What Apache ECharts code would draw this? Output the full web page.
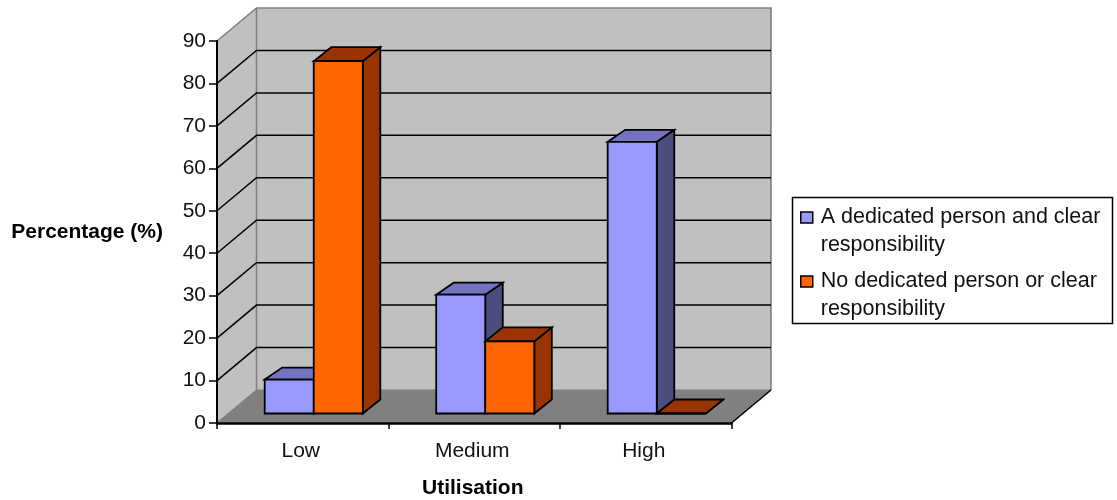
<!DOCTYPE html>
<html>
<head>
<meta charset="utf-8">
<style>html,body{margin:0;padding:0;background:#fff}#c{width:1117px;height:500px}</style>
<script src="https://cdn.jsdelivr.net/npm/echarts@6/dist/echarts.min.js"></script>
</head>
<body>
<div id="c"></div>
<script>
const categories = ['Low', 'Medium', 'High'];
const dedicatedValues = [8, 28, 64];
const noDedicatedValues = [83, 17, 0];
const gridValues = [10, 20, 30, 40, 50, 60, 70, 80, 90];
const seriesNames = ['A dedicated person and clear responsibility', 'No dedicated person or clear responsibility'];
const legendLines = {
  'A dedicated person and clear responsibility': ['A dedicated person and clear', 'responsibility'],
  'No dedicated person or clear responsibility': ['No dedicated person or clear', 'responsibility']
};

const FONT = '"Liberation Sans", Arial, sans-serif';
const WALL_DX = 39.5, WALL_DY = 33;      // depth of the plot box
const BAR_DX = 17.5;                     // depth of a bar
const BAR_SHIFT_X = 11, BAR_SHIFT_Y = 9.5; // front plane of the bars inside the box
const BAR_BAND = 0.286;                  // bar width as a share of a category

function poly(points, fill, stroke, lw) {
  return { type: 'polygon', shape: { points }, style: { fill, stroke: stroke || null, lineWidth: lw || 0, lineJoin: 'miter' }, silent: true };
}
function line(points, stroke, lw) {
  return { type: 'polyline', shape: { points }, style: { fill: null, stroke, lineWidth: lw }, silent: true };
}

function renderWalls(params) {
  const g = params.coordSys;
  const x = g.x, y = g.y, w = g.width, h = g.height, b = y + h;
  const dx = WALL_DX, dy = WALL_DY;
  const edge = '#808080';
  return {
    type: 'group',
    children: [
      poly([[x + dx, y - dy], [x + w + dx, y - dy], [x + w + dx, b - dy], [x + dx, b - dy]], '#C0C0C0'),
      poly([[x, y], [x + dx, y - dy], [x + dx, b - dy], [x, b]], '#C0C0C0'),
      poly([[x, b], [x + dx, b - dy], [x + w + dx, b - dy], [x + w, b]], '#808080'),
      line([[x, y], [x + dx, y - dy], [x + w + dx, y - dy], [x + w + dx, b - dy]], edge, 1.6),
      line([[x + dx, y - dy], [x + dx, b - dy]], edge, 1.6),
      line([[x, b], [x + dx, b - dy], [x + w + dx, b - dy]], edge, 1.2),
      line([[x + w, b], [x + w + dx, b - dy]], '#000', 1.5)
    ]
  };
}

function renderGrid(params, api) {
  const g = params.coordSys;
  const v = api.value(1);
  if (v >= 90) return { type: 'group', children: [] };
  const yy = api.coord([0, v])[1];
  return line([[g.x, yy], [g.x + WALL_DX, yy - WALL_DY], [g.x + g.width + WALL_DX, yy - WALL_DY]], '#000', 1.5);
}

function barRenderer(slot, depthY, front, side, top) {
  return function (params, api) {
    const i = api.value(0);
    const base = api.coord([i, 0]);
    const tip = api.coord([i, api.value(1)]);
    const bw = api.size([1, 0])[0] * BAR_BAND;
    const x0 = base[0] + BAR_SHIFT_X + (slot - 1) * bw;
    const x1 = x0 + bw;
    const yb = base[1] - BAR_SHIFT_Y;
    const yt = tip[1] - BAR_SHIFT_Y;
    const dx = BAR_DX, dy = depthY;
    return {
      type: 'group',
      children: [
        poly([[x1, yb], [x1 + dx, yb - dy], [x1 + dx, yt - dy], [x1, yt]], side, '#000', 1.8),
        poly([[x0, yt], [x0 + dx, yt - dy], [x1 + dx, yt - dy], [x1, yt]], top, '#000', 1.8),
        poly([[x0, yb], [x1, yb], [x1, yt], [x0, yt]], front, '#000', 1.8)
      ]
    };
  };
}

const chart = echarts.init(document.getElementById('c'), null, { renderer: 'canvas' });
chart.setOption({
  animation: false,
  backgroundColor: '#fff',
  textStyle: { fontFamily: FONT },
  grid: { left: 217, top: 41, width: 514.5, height: 382, containLabel: false, outerBoundsMode: 'none' },
  xAxis: {
    type: 'category',
    data: categories,
    z: 10,
    boundaryGap: true,
    axisLine: { lineStyle: { color: '#000', width: 2.5 } },
    axisTick: { show: true, length: 6, alignWithLabel: false, lineStyle: { color: '#000', width: 1.5 } },
    axisLabel: { color: '#111', fontFamily: FONT, fontSize: 21, margin: 18, padding: [0, 4, 0, 0] },
    name: 'Utilisation',
    nameLocation: 'middle',
    nameGap: 55,
    nameTextStyle: { color: '#000', fontFamily: FONT, fontSize: 21, fontWeight: 'bold', padding: [0, 3, 0, 0] }
  },
  yAxis: {
    type: 'value',
    min: 0,
    max: 90,
    interval: 10,
    z: 10,
    axisLine: { show: true, lineStyle: { color: '#000', width: 2 } },
    axisTick: { show: true, length: 8, lineStyle: { color: '#000', width: 1.5 } },
    axisLabel: { color: '#111', fontFamily: FONT, fontSize: 21, margin: 11 },
    splitLine: { show: false },
    name: 'Percentage (%)',
    nameLocation: 'middle',
    nameRotate: 0,
    nameGap: 54,
    nameTextStyle: { color: '#000', fontFamily: FONT, fontSize: 21, fontWeight: 'bold', padding: [3, 0, 0, 0] }
  },
  legend: {
    data: seriesNames,
    orient: 'vertical',
    left: 800,
    top: 175.5,
    padding: 0,
    itemGap: -20,
    itemWidth: 12,
    itemHeight: 11,
    icon: 'rect',
    selectedMode: false,
    itemStyle: { borderColor: '#000', borderWidth: 1.5 },
    textStyle: { color: '#111', fontFamily: FONT, fontSize: 21.5, lineHeight: 28, padding: [0, 0, 0, 3] },
    formatter: name => '\n' + legendLines[name].join('\n')
  },
  graphic: [{
    type: 'rect',
    z: -1,
    silent: true,
    shape: { x: 792.5, y: 197.5, width: 320, height: 126 },
    style: { fill: '#fff', stroke: '#000', lineWidth: 1.5 }
  }],
  series: [
    { name: 'Walls', type: 'custom', data: [0], z: 1, silent: true, clip: false, renderItem: renderWalls, encode: { y: 0 }, coordinateSystem: 'cartesian2d' },
    { name: 'Gridlines', type: 'custom', data: gridValues.map(v => [0, v]), z: 2, silent: true, clip: false,
      renderItem: renderGrid, encode: { x: 0, y: 1 } },
    { name: seriesNames[0], type: 'custom', z: 3, clip: false, silent: true,
      itemStyle: { color: '#9999FF' },
      data: dedicatedValues.map((v, i) => [i, v]), encode: { x: 0, y: 1 },
      renderItem: barRenderer(0, 12, '#9999FF', '#4D4D80', '#7373BF') },
    { name: seriesNames[1], type: 'custom', z: 4, clip: false, silent: true,
      itemStyle: { color: '#FF6600' },
      data: noDedicatedValues.map((v, i) => [i, v]), encode: { x: 0, y: 1 },
      renderItem: barRenderer(1, 14, '#FF6600', '#993300', '#993300') }
  ]
});
</script>
</body>
</html>
